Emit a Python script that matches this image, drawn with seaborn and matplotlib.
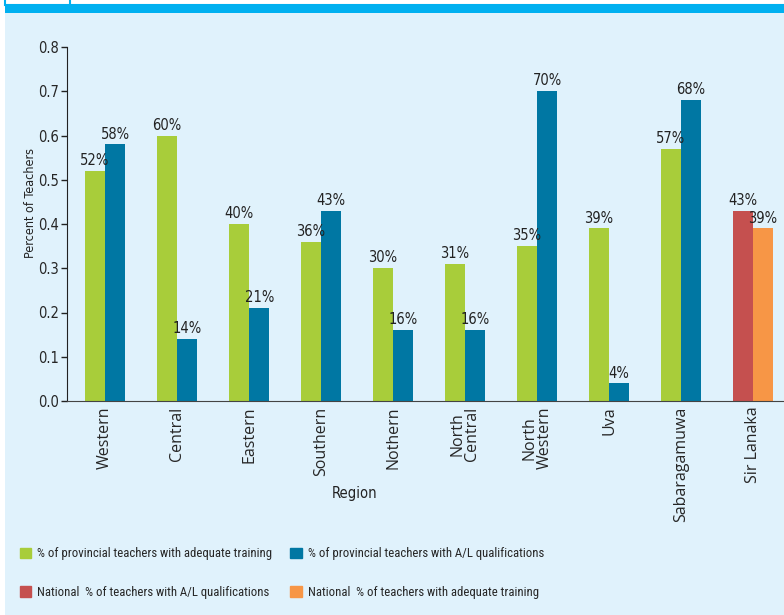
import pandas as pd
import matplotlib
matplotlib.use('Agg')
import matplotlib.pyplot as plt
import matplotlib.patches as mpatches
import seaborn as sns

regions = ['Western', 'Central', 'Eastern', 'Southern', 'Nothern', 'North\nCentral',
           'North\nWestern', 'Uva', 'Sabaragamuwa', 'Sir Lanaka']
# first bar of each group (green; red for the national group)
first_bar = [0.52, 0.60, 0.40, 0.36, 0.30, 0.31, 0.35, 0.39, 0.57, 0.43]
# second bar of each group (blue; orange for the national group)
second_bar = [0.58, 0.14, 0.21, 0.43, 0.16, 0.16, 0.70, 0.04, 0.68, 0.39]
legend_labels = ['% of provincial teachers with adequate training',
                 'National  % of teachers with A/L qualifications',
                 '% of provincial teachers with A/L qualifications',
                 'National  % of teachers with adequate training']

green, blue, red, orange = '#a8cd3a', '#0077a3', '#c5504f', '#f79646'
bg = '#e0f2fc'

df = pd.DataFrame({
    'region': regions * 2,
    'slot': ['a'] * len(regions) + ['b'] * len(regions),
    'value': first_bar + second_bar,
})

sns.set_style('white')
plt.rcParams['font.family'] = ['DejaVu Sans']
plt.rcParams['font.stretch'] = 'condensed'

fig = plt.figure(figsize=(7.84, 6.15), dpi=100, facecolor='white')
# light blue panel + top strip
fig.patches.append(mpatches.Rectangle((5 / 784, 0), 1, 602 / 615, transform=fig.transFigure,
                                      facecolor=bg, edgecolor='none', zorder=-2))
fig.patches.append(mpatches.Rectangle((5 / 784, 602 / 615), 1, 8 / 615, transform=fig.transFigure,
                                      facecolor='#00b0f0', edgecolor='none', zorder=-1))
fig.patches.append(mpatches.Rectangle((5 / 784, 610 / 615), 1, 10 / 615, transform=fig.transFigure,
                                      facecolor='white', edgecolor='#00b0f0', lw=1.5, zorder=-1))
fig.lines.append(plt.Line2D([70 / 784, 70 / 784], [610 / 615, 1], transform=fig.transFigure,
                            color='#00b0f0', lw=1.5))

ax = fig.add_axes([67 / 784, 1 - 401 / 615, 1 - 67 / 784, 354 / 615])
ax.set_facecolor('none')
sns.barplot(data=df, x='region', y='value', hue='slot', palette=[green, blue],
            width=0.56, legend=False, ax=ax, saturation=1, linewidth=0)

ax.containers[0][9].set_facecolor(red)
ax.containers[1][9].set_facecolor(orange)
for cont, vals in zip(ax.containers, [first_bar, second_bar]):
    ax.bar_label(cont, labels=[f'{round(v * 100)}%' for v in vals], padding=2,
                 fontsize=10.5, color='#222222')

ax.set_ylim(0, 0.8)
ax.set_xlim(-0.53, 9.43)
ax.set_yticks([0, 0.1, 0.2, 0.3, 0.4, 0.5, 0.6, 0.7, 0.8])
ax.set_yticklabels(['0.0', '0.1', '0.2', '0.3', '0.4', '0.5', '0.6', '0.7', '0.8'])
for s in ['top', 'right']:
    ax.spines[s].set_visible(False)
ax.spines['left'].set_color('#222222')
ax.spines['bottom'].set_color('#444444')
ax.tick_params(axis='y', length=4, width=1, color='#222222', labelsize=10.5, pad=2, left=True)
ax.tick_params(axis='x', length=0, pad=4)
for t in ax.get_xticklabels():
    t.set_rotation(90)
    t.set_fontsize(11.5)
    t.set_family(['Open Sans', 'DejaVu Sans'])
    t.set_stretch('normal')
    t.set_linespacing(0.9)
    t.set_va('top')
    t.set_ha('center')
ax.set_xlabel('Region', fontsize=10.5, color='#222222')
ax.xaxis.set_label_coords((355 - 67) / (784 - 67), -0.24)
ax.set_ylabel('Percent of Teachers', fontsize=9, color='#222222')
ax.yaxis.set_label_coords((37 - 67) / (784 - 67), (401 - 203) / 354)

handles = [mpatches.Patch(color=c) for c in [green, red, blue, orange]]
fig.legend(handles, legend_labels, ncol=2, loc='upper left', bbox_to_anchor=(8 / 784, 1 - 536 / 615),
           frameon=False, handlelength=0.9, handleheight=0.9, handletextpad=0.5,
           columnspacing=1.4, labelspacing=2.0,
           prop={'family': ['Roboto Condensed', 'DejaVu Sans'], 'stretch': 'condensed', 'size': 9.2})

fig.savefig('out.png', dpi=100, facecolor='white')
